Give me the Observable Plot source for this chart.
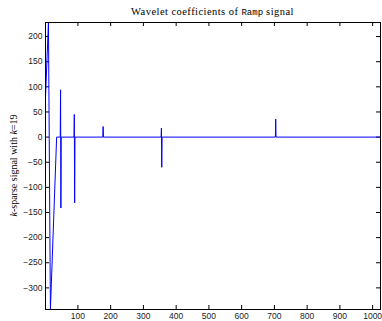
<!DOCTYPE html>
<html><head><meta charset="utf-8">
<script src="https://cdn.jsdelivr.net/npm/d3@7"></script>
<script src="https://cdn.jsdelivr.net/npm/@observablehq/plot@0.6"></script>
<style>body{margin:0;background:#fff} svg{display:block}</style>
</head><body><div id="chart"></div>
<script>
// Data
const xIndex = [1, 10, 16, 35, 46, 47, 48, 49, 88, 89, 90, 91, 176, 177, 178, 354, 355, 356, 357, 703, 704, 705, 1024];
const coeff  = [79, 228, -343, 0, 0, 94, -141, 0, 0, 45, -131, 0, 0, 21, 0, 0, 18, -60, 0, 0, 36, 0, 0];
const xTicks = [100, 200, 300, 400, 500, 600, 700, 800, 900, 1000];
const yTicks = [-300, -250, -200, -150, -100, -50, 0, 50, 100, 150, 200];
const xDomain = [1, 1024];
const yDomain = [-343, 228];
const titleParts = ["Wavelet coefficients of ", "Ramp", " signal"];
const ylabelParts = ["k", "-sparse signal with ", "k", "=19"];

const W = 382, H = 321, mL = 45, mR = 2, mT = 22, mB = 12;
const pw = W - mL - mR, ph = H - mT - mB;
const series = xIndex.map((x, i) => ({x, y: coeff[i]}));

const svgEl = Plot.plot({
  width: W, height: H,
  marginLeft: mL, marginRight: mR, marginTop: mT, marginBottom: mB,
  style: {fontSize: "8.5px", fontFamily: "'Liberation Sans', Arial, sans-serif", color: "#222", background: "#fff"},
  x: {domain: xDomain},
  y: {domain: yDomain},
  marks: [
    Plot.axisX(xTicks, {anchor: "bottom", tickSize: 0, tickPadding: 3, label: null, tickFormat: d => String(d)}),
    Plot.axisY(yTicks, {anchor: "left", tickSize: 0, tickPadding: 3, label: null, tickFormat: d => d < 0 ? "\u2212" + Math.abs(d) : String(d)}),
    Plot.tickX(xTicks, {x: d => d, stroke: "#000", insetBottom: ph - 4}),
    Plot.tickX(xTicks, {x: d => d, stroke: "#000", insetTop: ph - 4}),
    Plot.tickY(yTicks, {y: d => d, stroke: "#000", insetRight: pw - 4}),
    Plot.tickY(yTicks, {y: d => d, stroke: "#000", insetLeft: pw - 4}),
    Plot.line(series, {x: "x", y: "y", stroke: "#0000ff", strokeWidth: 1}),
    Plot.frame({stroke: "#000", strokeWidth: 1})
  ]
});

const svg = d3.select(svgEl);
const serif = "'Liberation Serif', 'DejaVu Serif', serif";
const title = svg.append("text")
  .attr("x", mL + pw / 2).attr("y", 14.5)
  .attr("text-anchor", "middle")
  .style("font-family", serif).style("font-size", "10.5px").style("letter-spacing", "0.45px").attr("fill", "#000");
title.append("tspan").text(titleParts[0]);
title.append("tspan").style("font-family", "'Liberation Mono', monospace").style("font-size", "9px").style("letter-spacing", "0px").text(titleParts[1]);
title.append("tspan").text(titleParts[2]);

const yl = svg.append("text")
  .attr("transform", `translate(16.5,${mT + ph / 2}) rotate(-90)`)
  .attr("text-anchor", "middle")
  .style("font-family", serif).style("font-size", "10px").attr("fill", "#000");
yl.append("tspan").style("font-style", "italic").text(ylabelParts[0]);
yl.append("tspan").text(ylabelParts[1]);
yl.append("tspan").style("font-style", "italic").text(ylabelParts[2]);
yl.append("tspan").text(ylabelParts[3]);

document.getElementById("chart").appendChild(svgEl);
</script>
</body></html>
